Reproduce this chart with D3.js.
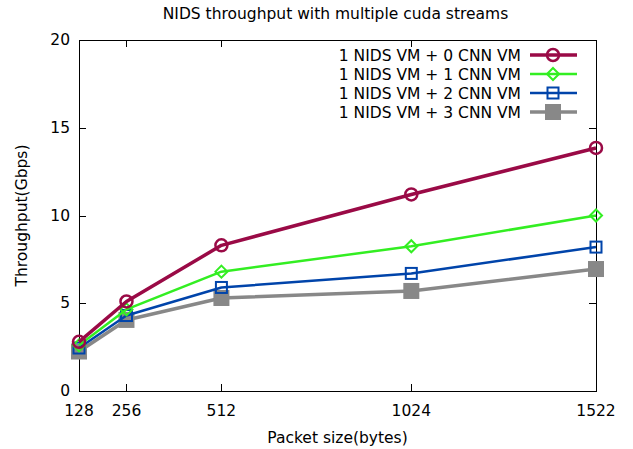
<!DOCTYPE html>
<html>
<head>
<meta charset="utf-8">
<script src="https://cdn.jsdelivr.net/npm/d3@7"></script>
<style>
  body { margin: 0; background: #fff; }
  text { font-family: "DejaVu Sans", sans-serif; fill: #000; font-size: 15.5px; }
</style>
</head>
<body>
<div id="chart"></div>
<script>
// data
var packetSizes = [128, 256, 512, 1024, 1522];
var seriesNames = ['1 NIDS VM + 0 CNN VM', '1 NIDS VM + 1 CNN VM', '1 NIDS VM + 2 CNN VM', '1 NIDS VM + 3 CNN VM'];
var cnn0 = [2.8, 5.1, 8.3, 11.2, 13.85];
var cnn1 = [2.6, 4.65, 6.8, 8.25, 10.0];
var cnn2 = [2.45, 4.3, 5.9, 6.7, 8.2];
var cnn3 = [2.25, 4.05, 5.3, 5.7, 6.95];
var yTicks = [0, 5, 10, 15, 20];

var colors = ['#9a0a46', '#33ee22', '#0044aa', '#888888'];
var widths = [3.5, 2.5, 2.5, 3.5];
var markers = ['circle', 'diamond', 'square', 'filled'];
var allSeries = [cnn0, cnn1, cnn2, cnn3];

var w = 633, h = 449;
var pLeft = 79, pRight = 596, pTop = 40, pBottom = 391;

var svg = d3.select('#chart').append('svg')
    .attr('width', w)
    .attr('height', h);

var x = d3.scaleLinear().domain([128, 1522]).range([pLeft, pRight]);
var y = d3.scaleLinear().domain([0, 20]).range([pBottom, pTop]);

// title
svg.append('text')
    .attr('x', (pLeft + pRight) / 2 - 2).attr('y', 19)
    .attr('text-anchor', 'middle')
    .text('NIDS throughput with multiple cuda streams');

// ticks (inward, mirrored)
var tickG = svg.append('g').attr('stroke', '#000').attr('stroke-width', 1);
packetSizes.forEach(function(v) {
    var px = Math.round(x(v)) + 0.5;
    tickG.append('line').attr('x1', px).attr('x2', px).attr('y1', pBottom).attr('y2', pBottom - 7);
    tickG.append('line').attr('x1', px).attr('x2', px).attr('y1', pTop).attr('y2', pTop + 7);
    svg.append('text')
        .attr('x', x(v)).attr('y', pBottom + 25)
        .attr('text-anchor', 'middle')
        .text(v);
});
yTicks.forEach(function(v) {
    var py = Math.round(y(v)) + 0.5;
    tickG.append('line').attr('x1', pLeft).attr('x2', pLeft + 7).attr('y1', py).attr('y2', py);
    tickG.append('line').attr('x1', pRight).attr('x2', pRight - 7).attr('y1', py).attr('y2', py);
    svg.append('text')
        .attr('x', pLeft - 9).attr('y', y(v) + 5)
        .attr('text-anchor', 'end')
        .text(v);
});

// border
svg.append('rect')
    .attr('x', pLeft + 0.5).attr('y', pTop + 0.5)
    .attr('width', pRight - pLeft).attr('height', pBottom - pTop)
    .attr('fill', 'none').attr('stroke', '#000').attr('stroke-width', 1);

// axis labels
svg.append('text')
    .attr('x', (pLeft + pRight) / 2).attr('y', 443)
    .attr('text-anchor', 'middle')
    .text('Packet size(bytes)');
svg.append('text')
    .attr('transform', 'translate(27,' + ((pTop + pBottom) / 2) + ') rotate(-90)')
    .attr('text-anchor', 'middle')
    .text('Throughput(Gbps)');

function drawMarker(g, kind, cx, cy, color) {
    if (kind === 'circle') {
        g.append('circle').attr('cx', cx).attr('cy', cy).attr('r', 6)
            .attr('fill', 'none').attr('stroke', color).attr('stroke-width', 2.5);
    } else if (kind === 'diamond') {
        g.append('path')
            .attr('d', 'M' + cx + ',' + (cy - 6) + 'L' + (cx + 6) + ',' + cy + 'L' + cx + ',' + (cy + 6) + 'L' + (cx - 6) + ',' + cy + 'Z')
            .attr('fill', 'none').attr('stroke', color).attr('stroke-width', 2);
    } else if (kind === 'square') {
        g.append('rect').attr('x', cx - 5.5).attr('y', cy - 5.5).attr('width', 11).attr('height', 11)
            .attr('fill', 'none').attr('stroke', color).attr('stroke-width', 2);
    } else {
        g.append('rect').attr('x', cx - 8).attr('y', cy - 8).attr('width', 16).attr('height', 16)
            .attr('fill', color);
    }
}

var line = d3.line()
    .x(function(d, i) { return x(packetSizes[i]); })
    .y(function(d) { return y(d); });

// draw in reverse so the first series ends on top
for (var s = allSeries.length - 1; s >= 0; s--) {
    var g = svg.append('g');
    g.append('path')
        .datum(allSeries[s])
        .attr('d', line)
        .attr('fill', 'none')
        .attr('stroke', colors[s])
        .attr('stroke-width', widths[s])
        .attr('stroke-linejoin', 'round');
    allSeries[s].forEach(function(v, i) {
        drawMarker(g, markers[s], x(packetSizes[i]), y(v), colors[s]);
    });
}

// legend
seriesNames.forEach(function(name, i) {
    var ly = 55 + i * 19;
    svg.append('text')
        .attr('x', 521).attr('y', ly + 5.5)
        .attr('text-anchor', 'end')
        .text(name);
    var lg = svg.append('g');
    lg.append('line')
        .attr('x1', 530).attr('x2', 577).attr('y1', ly).attr('y2', ly)
        .attr('stroke', colors[i]).attr('stroke-width', widths[i]);
    drawMarker(lg, markers[i], 553, ly, colors[i]);
});
</script>
</body>
</html>
